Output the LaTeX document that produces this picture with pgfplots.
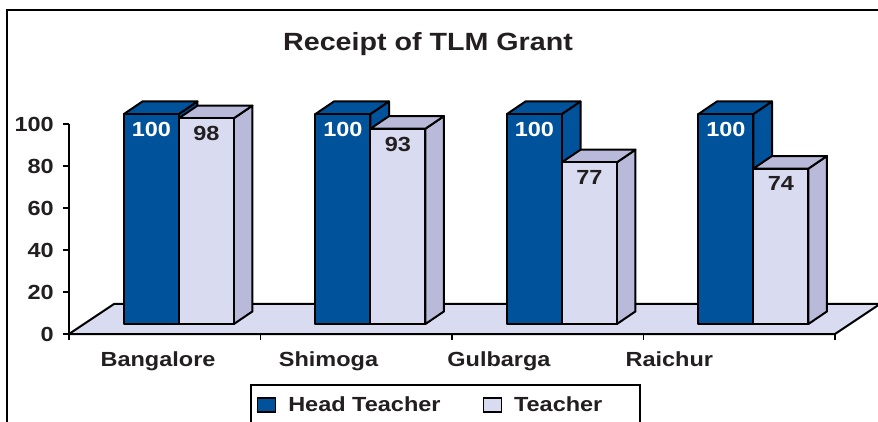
\documentclass[border=0pt]{standalone}
\usepackage{pgfplots}
\pgfplotsset{compat=1.18}
\usepackage{pgfplotstable}
\usepackage{fontspec}
\setmainfont{Liberation Sans}

\definecolor{hblue}{RGB}{0,82,155}
\definecolor{tfront}{RGB}{217,220,240}
\definecolor{tside}{RGB}{185,186,218}
\definecolor{txt}{RGB}{35,31,32}

% wide text, as in the original
\newcommand{\sx}[1]{\scalebox{1.15}[1]{#1}}
\newcommand{\lblfont}{\fontsize{20.5}{23}\selectfont\bfseries}

\pgfplotstableread{
idx head teacher
0 100 98
1 100 93
2 100 77
3 100 74
}\grant

% bar base above the floor front edge, and the depth of a bar (axis units)
\def\base{4.76}
\def\ddx{0.097}
\def\ddy{6}

% one 3d bar: left x, right x, value, front colour, side colour
\newcommand{\drawbox}[5]{%
  \pgfmathsetmacro{\xa}{#1}\pgfmathsetmacro{\xb}{#2}%
  \pgfmathsetmacro{\ya}{\base}\pgfmathsetmacro{\yb}{\base+#3}%
  \pgfmathsetmacro{\xc}{\xa+\ddx}\pgfmathsetmacro{\xd}{\xb+\ddx}%
  \pgfmathsetmacro{\yc}{\ya+\ddy}\pgfmathsetmacro{\yd}{\yb+\ddy}%
  \addplot[fill=#5, draw=black, line width=2bp, line join=round] coordinates {(\xb,\ya) (\xd,\yc) (\xd,\yd) (\xb,\yb)} -- cycle;
  \addplot[fill=#5, draw=black, line width=2bp, line join=round] coordinates {(\xa,\yb) (\xc,\yd) (\xd,\yd) (\xb,\yb)} -- cycle;
  \addplot[fill=#4, draw=black, line width=2bp, line join=round] coordinates {(\xa,\ya) (\xb,\ya) (\xb,\yb) (\xa,\yb)} -- cycle;
}

\pgfplotsset{sqlegend/.style={legend image code/.code={%
  \draw[##1, line width=1.5bp] (0bp,-7bp) rectangle (18bp,7bp);}}}

\begin{document}
\begin{tikzpicture}
\begin{axis}[
  name=ax,
  scale only axis,
  width=766bp, height=210bp,
  xmin=0, xmax=4, ymin=0, ymax=100,
  clip=false,
  axis x line=bottom, axis y line=left,
  axis line style={-, line width=2bp, black},
  xtick={0,1,2,3,4}, xticklabels={},
  ytick={0,20,40,60,80,100},
  tick align=outside,
  major tick length=6bp,
  tick style={line width=1.5bp, black},
  /pgf/number format/assume math mode=true,
  tick label style={font=\lblfont, text=txt},
  yticklabel={\sx{\pgfmathprintnumber{\tick}}},
  yticklabel style={inner sep=0pt, xshift=-9bp},
  extra x ticks={0.465,1.355,2.245,3.135},
  extra x tick labels={\sx{Bangalore},\sx{Shimoga},\sx{Gulbarga},\sx{Raichur}},
  extra x tick style={major tick length=0pt, tick label style={inner sep=0pt, yshift=-17bp}},
  legend columns=2,
  legend style={at={(axis description cs:0.236,-0.238)}, anchor=north west,
    draw=black, line width=2bp, font=\lblfont, text=txt,
    inner xsep=6bp, inner ysep=10bp,
    /tikz/every odd column/.append style={column sep=10bp},
    /tikz/every even column/.append style={column sep=40bp}},
]

\addlegendimage{sqlegend, fill=hblue, draw=black}
\addlegendentry{\sx{Head Teacher}}
\addlegendimage{sqlegend, fill=tfront, draw=black}
\addlegendentry{\sx{Teacher}\rule{30bp}{0pt}}

% floor
\addplot[fill=tfront, draw=black, line width=2bp, line join=round]
  coordinates {(0,0) (4,0) (4.235,14.3) (0.235,14.3)} -- cycle;

\pgfplotsinvokeforeach{0,1,2,3}{
  \pgfplotstablegetelem{#1}{head}\of\grant \let\vh\pgfplotsretval
  \pgfplotstablegetelem{#1}{teacher}\of\grant \let\vt\pgfplotsretval
  \drawbox{#1+0.287}{#1+0.574}{\vh}{hblue}{hblue}
  \drawbox{#1+0.574}{#1+0.861}{\vt}{tfront}{tside}
}

% value labels
\addplot[draw=none, point meta=explicit,
  nodes near coords={\sx{\pgfmathprintnumber{\pgfplotspointmeta}}},
  nodes near coords align=below,
  nodes near coords style={font=\lblfont, text=white, inner sep=0pt, yshift=-8bp}]
  table[x expr=\thisrow{idx}+0.4305, y expr=\thisrow{head}+\base, meta=head] {\grant};
\addplot[draw=none, point meta=explicit,
  nodes near coords={\sx{\pgfmathprintnumber{\pgfplotspointmeta}}},
  nodes near coords align=below,
  nodes near coords style={font=\lblfont, text=txt, inner sep=0pt, yshift=-8bp}]
  table[x expr=\thisrow{idx}+0.7175, y expr=\thisrow{teacher}+\base, meta=teacher] {\grant};
\end{axis}

\begin{scope}[shift={(ax.south west)}, xshift=-69bp, yshift=334bp, x=1bp, y=-1bp]
  \draw[line width=2bp, black] (7,10) rectangle (900,470);
  \node[anchor=base, inner sep=0pt, font=\fontsize{25}{30}\selectfont\bfseries, text=txt]
    at (428,50) {\sx{Receipt of TLM Grant}};
  \pgfresetboundingbox
  \path[use as bounding box] (0,0) rectangle (878,421);
\end{scope}
\end{tikzpicture}
\end{document}
